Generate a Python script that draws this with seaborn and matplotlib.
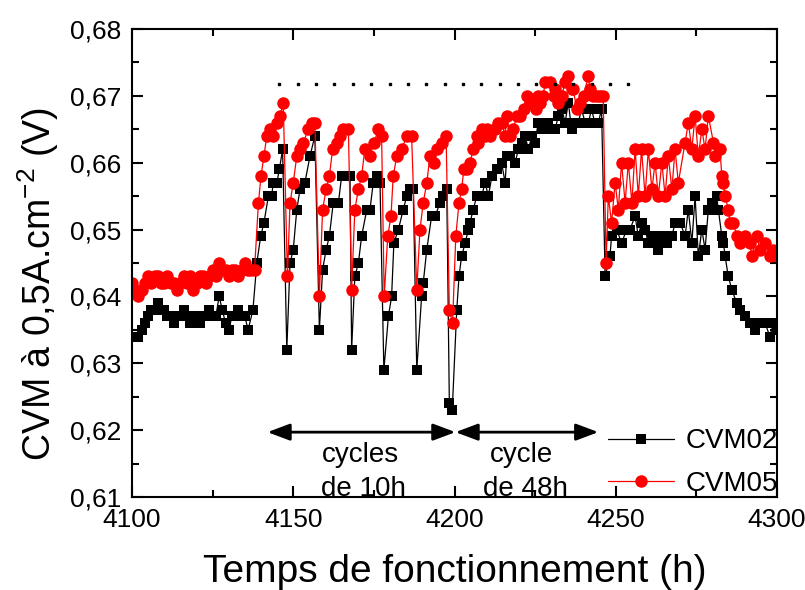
import numpy as np
import pandas as pd
import matplotlib
matplotlib.use("Agg")
import matplotlib.pyplot as plt
from matplotlib.ticker import MultipleLocator, FuncFormatter
import seaborn as sns

# CVM02 (black squares) - time (h) and voltage (V)
t02 = list(range(4100, 4137)) + [
    4137.5, 4138.7, 4139.9, 4140.9, 4142.3, 4143.3, 4143.8, 4144.9, 4145.7, 4146.7,
    4148.0, 4149.0, 4150.0, 4151.1, 4152.1, 4153.6, 4155.2, 4156.7,
    4158.1, 4159.1, 4160.2, 4161.2, 4162.4, 4164.0, 4165.0, 4166.6, 4167.6,
    4168.1, 4169.1, 4170.2, 4171.2, 4172.8, 4173.8, 4174.8, 4175.9, 4176.9,
    4178.1, 4179.5, 4180.5, 4181.2, 4182.6, 4184.1, 4185.2, 4186.2, 4187.2,
    4188.3, 4189.8, 4190.3, 4191.4, 4192.9, 4194.0, 4195.5, 4196.5, 4197.6,
    4198.4, 4199.3, 4200.7, 4201.4, 4202.2, 4203.3, 4204.3, 4204.8, 4205.8, 4206.9,
    4208.4, 4209.5, 4210.5, 4211.6, 4213.1, 4214.6, 4215.7, 4216.2, 4217.2, 4218.8,
    4219.8, 4220.8, 4221.9, 4222.9, 4224.0, 4224.9, 4226.0, 4227.0, 4228.1, 4229.1,
    4230.2, 4231.2, 4232.2, 4233.3, 4234.3, 4235.3, 4236.3, 4237.4, 4238.4, 4239.4,
    4240.5, 4241.5, 4242.5, 4243.5, 4244.6, 4245.6, 4246.7,
    4248.2, 4248.7, 4250.3, 4251.8, 4253.4, 4254.4, 4256.0, 4257.0, 4258.0, 4259.1,
    4260.1, 4261.2, 4262.7, 4263.2, 4264.3, 4265.8, 4267.4, 4268.4, 4270.0, 4271.5,
    4272.5, 4273.6, 4274.6, 4275.6, 4276.7, 4277.7, 4278.7, 4279.8, 4281.3, 4281.8,
    4282.9, 4283.4, 4283.9, 4284.9, 4286.0, 4287.5, 4288.5, 4290.1, 4291.6, 4293.2,
    4294.7, 4296.3, 4297.8, 4298.9, 4300.0]
v02 = [
    0.634, 0.634, 0.634, 0.635, 0.636, 0.637, 0.638, 0.638, 0.639, 0.638,
    0.638, 0.637, 0.637, 0.636, 0.637, 0.637, 0.638, 0.637, 0.636, 0.637,
    0.637, 0.636, 0.637, 0.637, 0.638, 0.637, 0.637, 0.640, 0.638, 0.636,
    0.635, 0.637, 0.637, 0.638, 0.637, 0.637, 0.635,
    0.638, 0.645, 0.649, 0.651, 0.655, 0.655, 0.657, 0.657, 0.659, 0.662,
    0.632, 0.645, 0.647, 0.653, 0.656, 0.657, 0.661, 0.664,
    0.635, 0.644, 0.647, 0.649, 0.654, 0.654, 0.658, 0.658, 0.658,
    0.632, 0.643, 0.645, 0.649, 0.653, 0.653, 0.657, 0.658, 0.657,
    0.629, 0.637, 0.640, 0.648, 0.650, 0.653, 0.655, 0.656, 0.656,
    0.629, 0.640, 0.642, 0.647, 0.652, 0.652, 0.654, 0.655, 0.656,
    0.624, 0.623, 0.638, 0.643, 0.646, 0.648, 0.650, 0.651, 0.653, 0.655,
    0.655, 0.657, 0.655, 0.658, 0.659, 0.660, 0.657, 0.661, 0.661, 0.660,
    0.662, 0.663, 0.664, 0.662, 0.664, 0.663, 0.666, 0.665, 0.665, 0.666,
    0.665, 0.665, 0.667, 0.668, 0.666, 0.669, 0.665, 0.666, 0.666, 0.668,
    0.666, 0.666, 0.668, 0.666, 0.666, 0.668, 0.643,
    0.646, 0.649, 0.650, 0.648, 0.650, 0.650, 0.652, 0.649, 0.651, 0.650,
    0.648, 0.649, 0.648, 0.647, 0.649, 0.648, 0.649, 0.651, 0.651, 0.649,
    0.653, 0.648, 0.655, 0.646, 0.650, 0.647, 0.653, 0.654, 0.655, 0.653,
    0.649, 0.648, 0.646, 0.643, 0.641, 0.639, 0.638, 0.637, 0.636, 0.635,
    0.636, 0.636, 0.634, 0.636, 0.635]

# CVM05 (red circles)
t05 = list(range(4100, 4139)) + [
    4139.2, 4140.0, 4140.9, 4141.8, 4142.8, 4143.8, 4144.9, 4145.9, 4146.9,
    4148.2, 4149.0, 4150.0, 4151.1, 4152.1, 4153.1, 4154.7, 4155.7, 4156.7,
    4158.1, 4159.1, 4160.2, 4161.2, 4162.2, 4163.5, 4164.5, 4165.5, 4167.1,
    4168.1, 4169.1, 4170.2, 4171.2, 4172.2, 4173.8, 4175.0, 4176.4, 4177.4,
    4178.2, 4179.3, 4180.3, 4181.0, 4182.1, 4183.6, 4185.2, 4186.7,
    4188.3, 4189.3, 4190.3, 4191.4, 4192.4, 4193.5, 4194.5, 4196.0, 4197.4,
    4198.4, 4199.4, 4200.4, 4201.4, 4202.2, 4202.9, 4204.0, 4204.8, 4205.8, 4206.9,
    4207.4, 4208.4, 4209.5, 4210.0, 4211.0, 4212.6, 4213.6, 4214.6, 4215.7, 4216.2,
    4217.2, 4218.2, 4219.3, 4220.3, 4221.4, 4222.4, 4223.4, 4224.4, 4225.4, 4226.0,
    4226.5, 4227.5, 4228.1, 4229.6, 4230.7, 4231.2, 4232.2, 4233.2, 4234.3, 4235.3,
    4236.3, 4236.8, 4237.9, 4238.9, 4240.0, 4241.5, 4242.0, 4243.0, 4244.1, 4245.1,
    4246.1, 4247.0,
    4247.7, 4248.7, 4249.8, 4250.8, 4251.8, 4252.9, 4253.9, 4255.0, 4256.0, 4257.0,
    4258.0, 4259.1, 4260.1, 4261.2, 4262.2, 4263.2, 4264.3, 4265.3, 4266.3, 4267.4,
    4268.4, 4269.4, 4271.5, 4272.5, 4273.6, 4274.6, 4275.6, 4276.7, 4277.7, 4278.7,
    4280.3, 4280.8, 4282.3, 4282.9, 4283.4, 4283.9, 4284.9, 4285.4, 4286.5, 4287.5,
    4288.5, 4290.1, 4291.6, 4292.2, 4293.7, 4294.7, 4296.3, 4297.8, 4298.9, 4300.0]
v05 = [
    0.642, 0.641, 0.640, 0.641, 0.642, 0.643, 0.642, 0.643, 0.643, 0.642,
    0.642, 0.643, 0.642, 0.642, 0.641, 0.642, 0.643, 0.642, 0.643, 0.641,
    0.642, 0.643, 0.643, 0.642, 0.643, 0.644, 0.643, 0.645, 0.644, 0.644,
    0.643, 0.644, 0.644, 0.643, 0.644, 0.645, 0.644, 0.644, 0.644,
    0.654, 0.658, 0.661, 0.664, 0.665, 0.664, 0.666, 0.667, 0.669,
    0.643, 0.654, 0.657, 0.661, 0.662, 0.663, 0.665, 0.666, 0.666,
    0.640, 0.653, 0.656, 0.658, 0.662, 0.663, 0.664, 0.665, 0.665,
    0.641, 0.653, 0.656, 0.658, 0.662, 0.661, 0.663, 0.665, 0.664,
    0.640, 0.649, 0.652, 0.658, 0.661, 0.662, 0.664, 0.664,
    0.641, 0.650, 0.654, 0.657, 0.661, 0.660, 0.662, 0.663, 0.664,
    0.638, 0.636, 0.649, 0.654, 0.656, 0.659, 0.659, 0.660, 0.662, 0.664,
    0.663, 0.665, 0.664, 0.665, 0.664, 0.665, 0.666, 0.666, 0.664, 0.667,
    0.664, 0.665, 0.667, 0.667, 0.668, 0.670, 0.669, 0.669, 0.668, 0.670,
    0.669, 0.670, 0.672, 0.672, 0.670, 0.671, 0.669, 0.670, 0.672, 0.673,
    0.671, 0.671, 0.668, 0.669, 0.670, 0.673, 0.671, 0.670, 0.670, 0.670,
    0.670, 0.645,
    0.655, 0.651, 0.657, 0.653, 0.660, 0.654, 0.660, 0.654, 0.662, 0.655,
    0.662, 0.655, 0.662, 0.656, 0.660, 0.655, 0.660, 0.655, 0.661, 0.656,
    0.662, 0.657, 0.663, 0.666, 0.662, 0.667, 0.661, 0.665, 0.662, 0.667,
    0.663, 0.661, 0.662, 0.658, 0.657, 0.655, 0.653, 0.651, 0.651, 0.649,
    0.648, 0.649, 0.648, 0.646, 0.649, 0.647, 0.648, 0.646, 0.647, 0.646]

# annotations
ref_level = 0.6718          # dotted reference line
ref_span = (4145.7, 4253.9)
ref_dots = 20
arrow_y = 0.6197
arrow_10h = (4142.0, 4200.3)
arrow_48h = (4200.3, 4244.6)

sns.set_style("ticks")
plt.rcParams["font.family"] = ["Liberation Sans", "DejaVu Sans"]
plt.rcParams.update({"text.color": "black", "axes.labelcolor": "black",
                     "xtick.color": "black", "ytick.color": "black",
                     "axes.edgecolor": "black"})

fig = plt.figure(figsize=(8.05, 5.90), dpi=100)
ax = fig.add_axes([132 / 805, 1 - 497 / 590, 645 / 805, 468 / 590])

df02 = pd.DataFrame({"t": t02, "v": v02})
df05 = pd.DataFrame({"t": t05, "v": v05})

sns.lineplot(data=df02, x="t", y="v", estimator=None, sort=False, ax=ax,
             color="black", linewidth=0.9, marker="s", markersize=7.5,
             markeredgewidth=0, label="CVM02")
sns.lineplot(data=df05, x="t", y="v", estimator=None, sort=False, ax=ax,
             color="red", linewidth=0.9, marker="o", markersize=9,
             markeredgewidth=0, label="CVM05")

# dotted reference line
ax.plot(np.linspace(ref_span[0], ref_span[1], ref_dots), [ref_level] * ref_dots,
        ls="none", marker="s", markersize=2, color="black")

# arrows and labels
for a, b in (arrow_10h, arrow_48h):
    ax.annotate("", xy=(a, arrow_y), xytext=(b, arrow_y),
                arrowprops=dict(arrowstyle="<|-|>,head_length=0.8,head_width=0.3",
                                color="black", lw=2, mutation_scale=17,
                                shrinkA=0, shrinkB=0))
ax.text(4170.7, 0.6152, "cycles", ha="center", va="baseline", fontsize=20)
ax.text(4171.9, 0.6101, "de 10h", ha="center", va="baseline", fontsize=20)
ax.text(4220.8, 0.6152, "cycle", ha="center", va="baseline", fontsize=20)
ax.text(4221.9, 0.6101, "de 48h", ha="center", va="baseline", fontsize=20)

ax.set_xlim(4100, 4300)
ax.set_ylim(0.61, 0.68)
ax.xaxis.set_major_locator(MultipleLocator(50))
ax.xaxis.set_minor_locator(MultipleLocator(25))
ax.yaxis.set_major_locator(MultipleLocator(0.01))
ax.yaxis.set_minor_locator(MultipleLocator(0.005))
ax.yaxis.set_major_formatter(FuncFormatter(lambda v, _: f"{v:.2f}".replace(".", ",")))
ax.tick_params(which="both", direction="in", top=True, right=True, width=1.5,
               labelsize=19, pad=8)
ax.tick_params(which="major", length=8)
ax.tick_params(which="minor", length=5)
for s in ax.spines.values():
    s.set_linewidth(1.5)

ax.set_xlabel("Temps de fonctionnement (h)", fontsize=28, labelpad=16)
ax.set_ylabel(r"CVM à 0,5A.cm$^{\mathregular{-2}}$ (V)", fontsize=27)
ax.yaxis.set_label_coords(-0.11, 0.455)

ax.legend(loc="lower right", frameon=False, fontsize=20, handlelength=2.4,
          handletextpad=0.4, borderaxespad=0.1, labelspacing=0.6,
          bbox_to_anchor=(1.023, -0.03))

fig.savefig("out.png", dpi=100)
